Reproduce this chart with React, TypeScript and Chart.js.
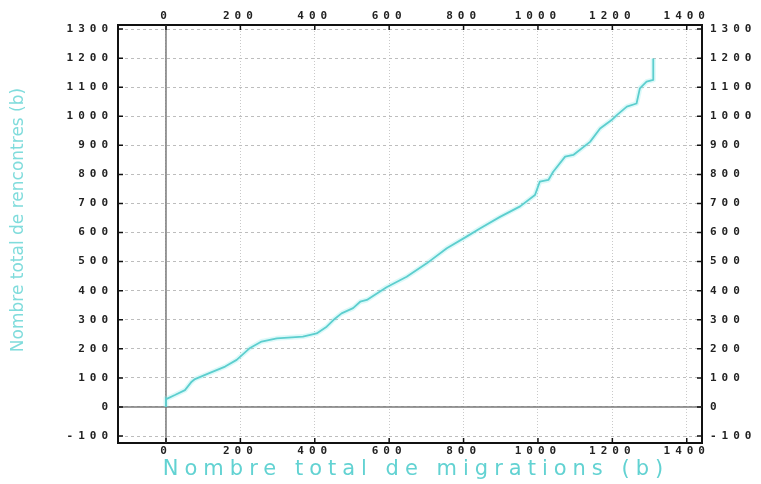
import React, { useEffect, useRef } from 'react';
import { Chart, registerables } from 'chart.js';

Chart.register(...registerables);

// Data
const migrations = [0, 0, 2, 24, 51, 69, 78, 118, 159, 190, 226, 257, 298, 368, 405, 432, 450, 472, 503, 522, 540, 593, 647, 701, 755, 808, 844, 898, 952, 992, 1005, 1028, 1041, 1073, 1095, 1140, 1167, 1198, 1212, 1239, 1265, 1274, 1292, 1310, 1310];
const rencontres = [0, 30, 28, 41, 58, 87, 96, 117, 139, 162, 203, 225, 236, 242, 253, 276, 299, 322, 340, 362, 368, 412, 448, 494, 546, 586, 614, 654, 690, 729, 775, 781, 809, 861, 867, 912, 958, 987, 1004, 1033, 1044, 1096, 1119, 1125, 1199];

const xTickValues = [0, 200, 400, 600, 800, 1000, 1200, 1400];
const yTickValues = [-100, 0, 100, 200, 300, 400, 500, 600, 700, 800, 900, 1000, 1100, 1200, 1300];

const X_MIN = -129;
const X_MAX = 1441;
const Y_MIN = -124;
const Y_MAX = 1314;

const xTitle = 'Nombre total de migrations (b)';
const yTitle = 'Nombre total de rencontres (b)';

const tickFont = { family: '"DejaVu Sans Mono", monospace', size: 11, weight: 'bold' as const };
const fmt = (v: any) => String(v);

const decorPlugin = {
  id: 'decor',
  beforeDraw(chart: any) {
    chart.ctx.letterSpacing = '5px';
  },
  beforeDatasetsDraw(chart: any) {
    const { ctx, chartArea: a, scales } = chart;
    const xs = scales.x;
    const ys = scales.y;
    ctx.save();
    ctx.letterSpacing = '0px';
    ctx.strokeStyle = '#7a7a7a';
    ctx.lineWidth = 1.5;
    ctx.setLineDash([]);
    const x0 = xs.getPixelForValue(0);
    const y0 = ys.getPixelForValue(0);
    ctx.beginPath();
    ctx.moveTo(x0, a.top);
    ctx.lineTo(x0, a.bottom);
    ctx.moveTo(a.left, y0);
    ctx.lineTo(a.right, y0);
    ctx.stroke();
    ctx.strokeStyle = '#111';
    ctx.lineWidth = 1.5;
    ctx.beginPath();
    xTickValues.forEach((v) => {
      const px = xs.getPixelForValue(v);
      ctx.moveTo(px, a.bottom);
      ctx.lineTo(px, a.bottom - 5);
      ctx.moveTo(px, a.top);
      ctx.lineTo(px, a.top + 5);
    });
    yTickValues.forEach((v) => {
      const py = ys.getPixelForValue(v);
      ctx.moveTo(a.left, py);
      ctx.lineTo(a.left + 5, py);
      ctx.moveTo(a.right, py);
      ctx.lineTo(a.right - 5, py);
    });
    ctx.stroke();
    ctx.restore();
  },
  afterDraw(chart: any) {
    const { ctx } = chart;
    ctx.save();
    ctx.textAlign = 'center';
    ctx.textBaseline = 'middle';
    ctx.letterSpacing = '6px';
    ctx.fillStyle = '#62d2d2';
    ctx.font = '21px "DejaVu Sans", sans-serif';
    ctx.fillText(xTitle, 416, 470);
    ctx.letterSpacing = '0px';
    ctx.fillStyle = '#80dcdc';
    ctx.font = '17px "DejaVu Sans", sans-serif';
    ctx.translate(19, 220);
    ctx.rotate(-Math.PI / 2);
    ctx.fillText(yTitle, 0, 0);
    ctx.restore();
    ctx.letterSpacing = '0px';
  },
};

export default function App() {
  const ref = useRef<HTMLCanvasElement | null>(null);
  useEffect(() => {
    if (!ref.current) return;
    const points = migrations.map((x, i) => ({ x, y: rencontres[i] }));
    const chart = new Chart(ref.current, {
      type: 'scatter',
      data: {
        datasets: [
          {
            data: points,
            showLine: true,
            borderColor: 'rgba(140,235,235,0.3)',
            borderWidth: 5,
            borderJoinStyle: 'round',
            pointRadius: 0,
            xAxisID: 'x',
            yAxisID: 'y',
          },
          {
            data: points,
            showLine: true,
            borderColor: '#48c2c2',
            borderWidth: 1.8,
            borderJoinStyle: 'round',
            pointRadius: 0,
            xAxisID: 'x',
            yAxisID: 'y',
          },
        ],
      },
      options: {
        responsive: false,
        animation: false,
        devicePixelRatio: 1,
        layout: { padding: 0 },
        plugins: { legend: { display: false }, tooltip: { enabled: false } },
        scales: {
          x: {
            type: 'linear',
            position: 'bottom',
            min: X_MIN,
            max: X_MAX,
            afterBuildTicks: (s: any) => { s.ticks = xTickValues.map((v) => ({ value: v })); },
            afterFit: (s: any) => { s.height = 41; },
            grid: { color: '#c9c9c9', lineWidth: 1, drawTicks: false },
            border: { color: '#111', width: 2, dash: [1, 2] },
            ticks: { padding: 2, font: tickFont, color: '#222', maxRotation: 0, autoSkip: false, callback: fmt },
          },
          x2: {
            type: 'linear',
            position: 'top',
            min: X_MIN,
            max: X_MAX,
            afterBuildTicks: (s: any) => { s.ticks = xTickValues.map((v) => ({ value: v })); },
            afterFit: (s: any) => { s.height = 25; },
            grid: { drawOnChartArea: false, drawTicks: false },
            border: { color: '#111', width: 2 },
            ticks: { padding: 2, font: tickFont, color: '#222', maxRotation: 0, autoSkip: false, callback: fmt },
          },
          y: {
            type: 'linear',
            position: 'left',
            min: Y_MIN,
            max: Y_MAX,
            afterBuildTicks: (s: any) => { s.ticks = yTickValues.map((v) => ({ value: v })); },
            afterFit: (s: any) => { s.width = 118; },
            grid: { color: '#bdbdbd', lineWidth: 1, drawTicks: false },
            border: { color: '#111', width: 2, dash: [3, 3] },
            ticks: { padding: 5, font: tickFont, color: '#222', autoSkip: false, callback: fmt },
          },
          y2: {
            type: 'linear',
            position: 'right',
            min: Y_MIN,
            max: Y_MAX,
            afterBuildTicks: (s: any) => { s.ticks = yTickValues.map((v) => ({ value: v })); },
            afterFit: (s: any) => { s.width = 59; },
            grid: { drawOnChartArea: false, drawTicks: false },
            border: { color: '#111', width: 2 },
            ticks: { padding: 8, font: tickFont, color: '#222', autoSkip: false, callback: fmt },
          },
        },
      },
      plugins: [decorPlugin],
    } as any);
    return () => chart.destroy();
  }, []);
  return (
    <div style={{ position: 'fixed', left: 0, top: 0, width: 761, height: 484, background: '#fff' }}>
      <canvas ref={ref} width={761} height={484} style={{ display: 'block' }} />
    </div>
  );
}
